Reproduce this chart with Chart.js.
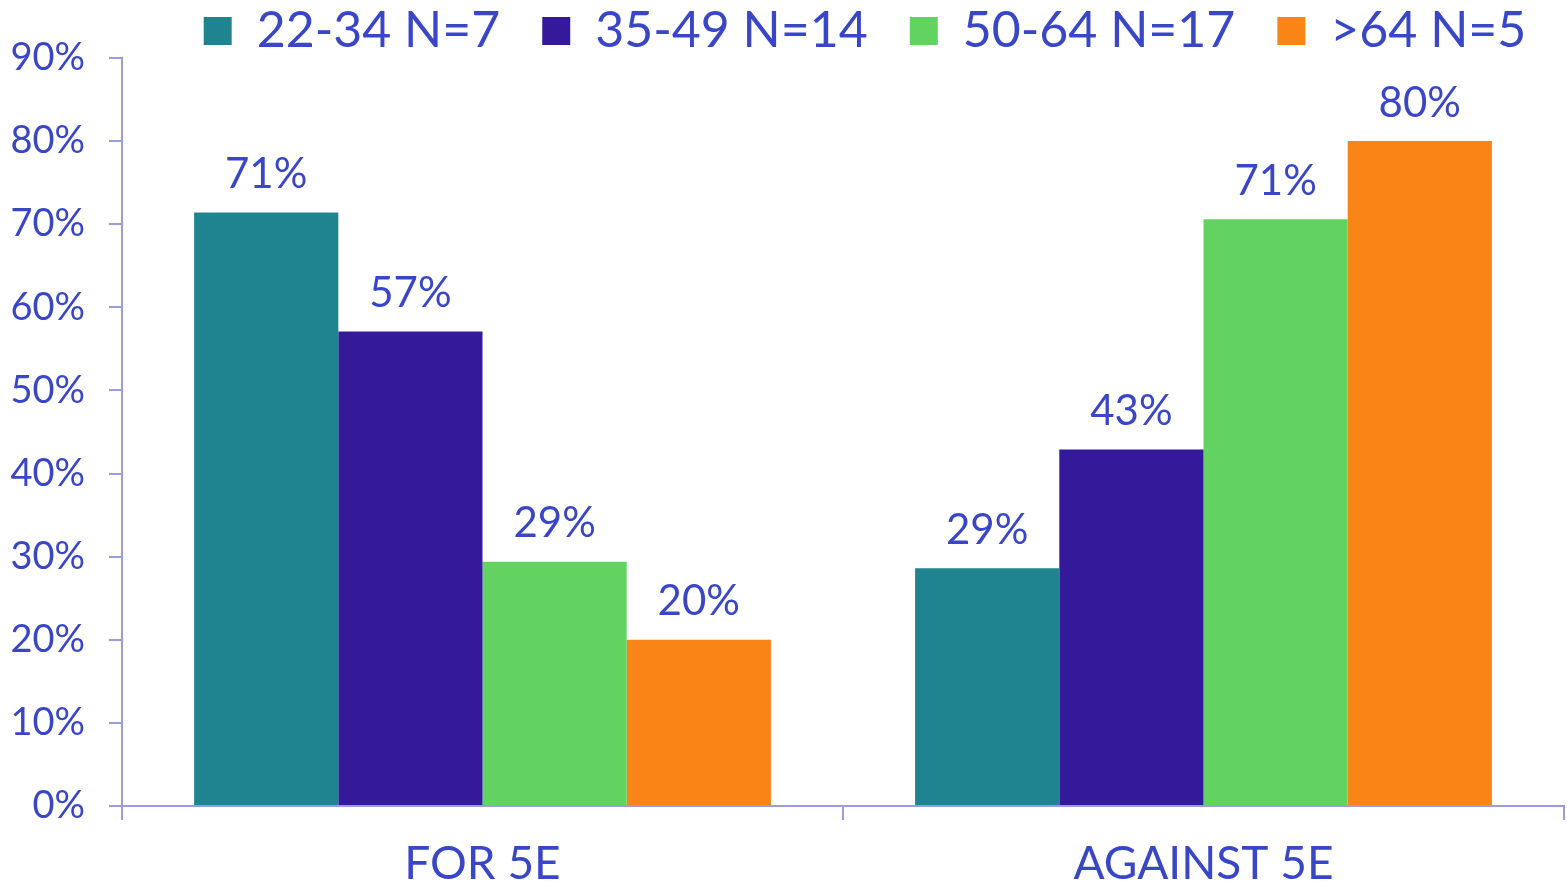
<!DOCTYPE html>
<html>
<head>
<meta charset="utf-8">
<script src="https://cdn.jsdelivr.net/npm/chart.js@4.4.0/dist/chart.umd.min.js"></script>
<style>
html,body{margin:0;padding:0;background:#fff;}
#wrap{width:1567px;height:885px;position:relative;}
</style>
</head>
<body>
<div id="wrap"><canvas id="c" width="1567" height="885"></canvas></div>
<script>
const categories = ["FOR 5E", "AGAINST 5E"];
const seriesNames = ["22-34 N=7", "35-49 N=14", "50-64 N=17", ">64 N=5"];
const age2234 = [71.4, 28.6];
const age3549 = [57.1, 42.9];
const age5064 = [29.4, 70.6];
const age64plus = [20, 80];
const yTicks = [0, 10, 20, 30, 40, 50, 60, 70, 80, 90];

const colors = ["#1F8490", "#34199B", "#62D260", "#FA8517"];
const textColor = "#3A46C8";
const axisColor = "#9B9BE0";
const FONT = "Lato, 'Open Sans', sans-serif";

const values = [age2234, age3549, age5064, age64plus];
const datasets = seriesNames.map((n, i) => ({
  label: n,
  data: values[i],
  backgroundColor: colors[i],
  borderWidth: 0,
  categoryPercentage: 0.8,
  barPercentage: 1.0
}));

const labelPlugin = {
  id: "barLabels",
  afterInit(chart) {
    const lg = chart.legend;
    if (lg) {
      const orig = lg.fit.bind(lg);
      lg.fit = function () { orig(); this.height = 50; };
    }
  },
  afterLayout(chart) {
    const lg = chart.legend;
    if (lg) {
      lg.left += 22; lg.right += 22;
      lg.top = -36; lg.bottom = 60;
    }
  },
  afterDatasetsDraw(chart) {
    const ctx = chart.ctx;
    ctx.save();
    ctx.fillStyle = textColor;
    ctx.font = "42px " + FONT;
    ctx.textAlign = "center";
    ctx.textBaseline = "bottom";
    chart.data.datasets.forEach((ds, di) => {
      const meta = chart.getDatasetMeta(di);
      meta.data.forEach((bar, i) => {
        const v = ds.data[i];
        ctx.fillText(Math.round(v) + "%", bar.x, bar.y - 17);
      });
    });
    ctx.restore();
  }
};

new Chart(document.getElementById("c"), {
  type: "bar",
  data: { labels: categories, datasets },
  plugins: [labelPlugin],
  options: {
    responsive: false,
    animation: false,
    layout: { padding: { left: 0, right: 3, top: 8, bottom: 0 } },
    plugins: {
      tooltip: { enabled: false },
      legend: {
        position: "top",
        fullSize: false,
        padding: 0,
        labels: {
          boxWidth: 28,
          boxHeight: 28,
          padding: 42,
          color: textColor,
          font: { size: 50, family: FONT }
        }
      }
    },
    scales: {
      x: {
        afterFit(s) { s.height = 79; },
        border: { color: axisColor, width: 2 },
        grid: { display: true, drawOnChartArea: false, color: axisColor, lineWidth: 2, tickLength: 14, offset: true },
        ticks: { color: textColor, font: { size: 46, family: FONT }, padding: 17 }
      },
      y: {
        min: 0,
        max: 90,
        afterFit(s) { s.width = 122; },
        afterBuildTicks(s) { s.ticks = yTicks.map(v => ({ value: v })); },
        border: { color: axisColor, width: 2 },
        grid: { display: true, drawOnChartArea: false, color: axisColor, lineWidth: 2, tickLength: 13 },
        ticks: {
          color: textColor,
          font: { size: 38, family: FONT },
          padding: 24,
          callback: v => v + "%"
        }
      }
    }
  }
});
</script>
</body>
</html>
